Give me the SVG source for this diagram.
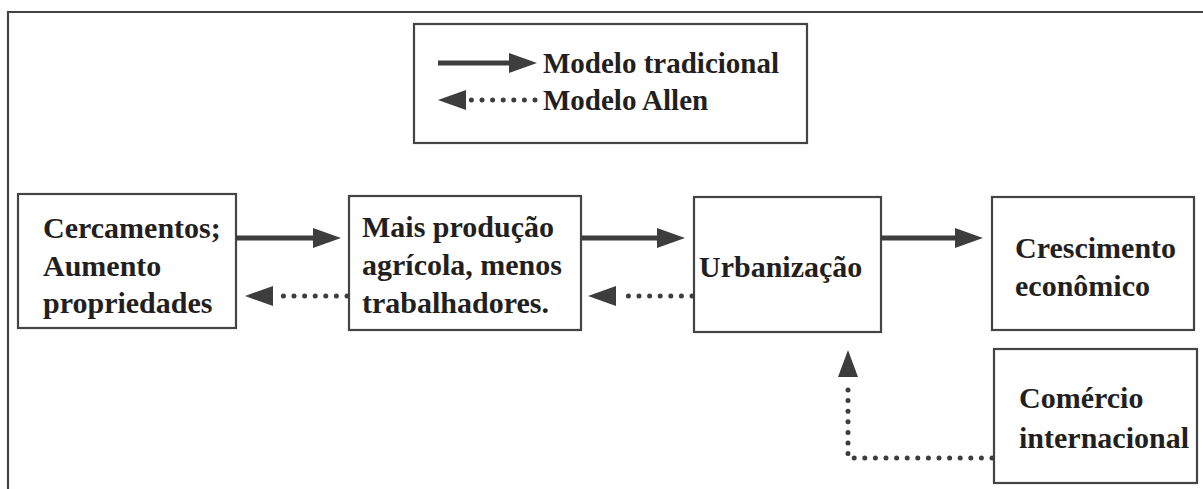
<svg xmlns="http://www.w3.org/2000/svg" width="1203" height="489" viewBox="0 0 1203 489">
<defs>
<style>
.box{fill:#fff;stroke:#444;stroke-width:2.2}
.t{font-family:"Liberation Serif","Times New Roman",serif;font-weight:bold;font-size:30px;fill:#231f20}
.lg{font-size:29px}
.solid{stroke:#3d3d3d;stroke-width:5;fill:none}
.dot{stroke:#3d3d3d;stroke-width:5;stroke-linecap:round;stroke-dasharray:0 10.6;fill:none}
.head{fill:#3d3d3d}
</style>
</defs>
<rect width="1203" height="489" fill="#fff"/>
<path d="M8,500 V12 H1210" fill="none" stroke="#444" stroke-width="2.2"/>
<g id="legend">
<rect class="box" x="414" y="24" width="393" height="119"/>
<line class="solid" x1="438" y1="63" x2="510" y2="63"/>
<polygon class="head" points="509,53 537,63 509,73"/>
<text class="t lg" x="543" y="73">Modelo tradicional</text>
<line class="dot" x1="535" y1="100" x2="470" y2="100"/>
<polygon class="head" points="466,90 438,100 466,110"/>
<text class="t lg" x="543" y="110">Modelo Allen</text>
</g>
<g id="n1">
<rect class="box" x="18" y="194" width="218" height="134"/>
<text class="t" x="43" y="238">Cercamentos;</text>
<text class="t" x="43" y="276">Aumento</text>
<text class="t" x="43" y="313">propriedades</text>
</g>
<g id="n2">
<rect class="box" x="349" y="196" width="232" height="134"/>
<text class="t" x="362" y="237">Mais produção</text>
<text class="t" x="362" y="275">agrícola, menos</text>
<text class="t" x="362" y="313">trabalhadores.</text>
</g>
<g id="n3">
<rect class="box" x="694" y="197" width="187" height="135"/>
<text class="t" x="699" y="277">Urbanização</text>
</g>
<g id="n4">
<rect class="box" x="992" y="197" width="202" height="133"/>
<text class="t" x="1015" y="258">Crescimento</text>
<text class="t" x="1015" y="296">econômico</text>
</g>
<g id="n5">
<rect class="box" x="994" y="349" width="203" height="134"/>
<text class="t" x="1019" y="408">Comércio</text>
<text class="t" x="1019" y="448">internacional</text>
</g>
<g id="connectors">
<line class="solid" x1="236" y1="238" x2="315" y2="238"/>
<polygon class="head" points="313,228 341,238 313,248"/>
<line class="solid" x1="581" y1="238" x2="659" y2="238"/>
<polygon class="head" points="657,228 685,238 657,248"/>
<line class="solid" x1="881" y1="238" x2="957" y2="238"/>
<polygon class="head" points="955,228 983,238 955,248"/>
<line class="dot" x1="347" y1="296" x2="278" y2="296"/>
<polygon class="head" points="273,286 245,296 273,306"/>
<line class="dot" x1="692" y1="296" x2="620" y2="296"/>
<polygon class="head" points="616,286 588,296 616,306"/>
<polyline class="dot" points="992,458 848,458 848,382"/>
<polygon class="head" points="838,377 848,350 858,377"/>
</g>
</svg>
